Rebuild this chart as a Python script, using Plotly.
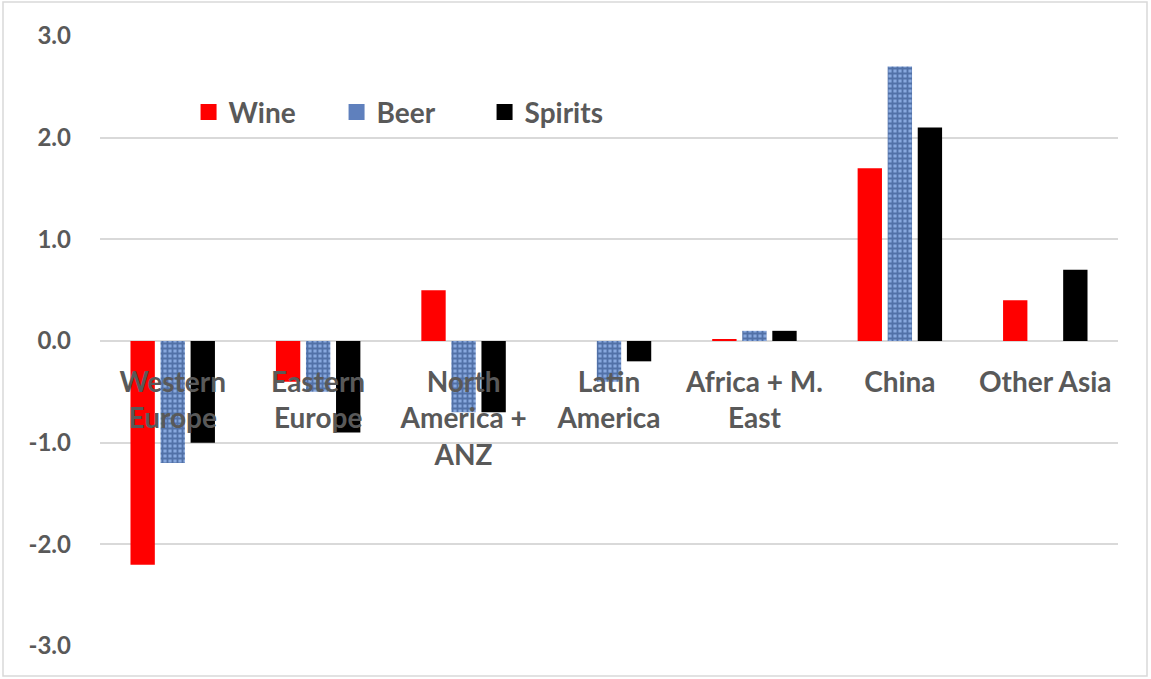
import plotly.graph_objects as go

categories = ["Western<br>Europe", "Eastern<br>Europe", "North<br>America +<br>ANZ", "Latin<br>America",
              "Africa + M.<br>East", "China", "Other Asia"]
series_names = ["Wine", "Beer", "Spirits"]
wine = [-2.2, -0.4, 0.5, 0.0, 0.02, 1.7, 0.4]
beer = [-1.2, -0.5, -0.7, -0.4, 0.1, 2.7, 0.0]
spirits = [-1.0, -0.9, -0.7, -0.2, 0.1, 2.1, 0.7]
y_ticks = [-3, -2, -1, 0, 1, 2, 3]
y_tick_text = ["-3.0", "-2.0", "-1.0", "0.0", "1.0", "2.0", "3.0"]

W, H = 1151, 679
ml, mr, mt, mb = 100, 33, 36, 33
pw, ph = W - ml - mr, H - mt - mb
font = "Lato"
grey = "#595959"
beer_bg, beer_fg = "#88a8de", "#1c3a70"

fig = go.Figure()
fig.add_trace(go.Bar(name=series_names[0], x=categories, y=wine, showlegend=False,
                     marker=dict(color="#ff0000", line=dict(width=0))))
fig.add_trace(go.Bar(name=series_names[1], x=categories, y=beer, showlegend=False,
                     marker=dict(color=beer_bg, line=dict(width=0),
                                 pattern=dict(shape="+", fgcolor=beer_fg, bgcolor=beer_bg, size=5, solidity=0.6))))
fig.add_trace(go.Bar(name=series_names[2], x=categories, y=spirits, showlegend=False,
                     marker=dict(color="#000000", line=dict(width=0))))
# legend entries with larger square swatches
for name, col in zip(series_names, ["#ff0000", "#5f80bd", "#000000"]):
    fig.add_trace(go.Scatter(name=name, x=[None], y=[None], mode="markers",
                             marker=dict(symbol="square", size=17, color=col)))

fig.update_layout(
    width=W, height=H,
    margin=dict(l=ml, r=mr, t=mt, b=mb),
    paper_bgcolor="white", plot_bgcolor="white",
    barmode="group", bargap=0.38, bargroupgap=0.19,
    font=dict(family=font, color=grey, size=24),
    legend=dict(orientation="h", x=0.087, y=0.875, xanchor="left", yanchor="middle",
                font=dict(family=font, size=28, color=grey, weight="bold"),
                bgcolor="rgba(0,0,0,0)", traceorder="normal", itemsizing="trace",
                entrywidth=103, entrywidthmode="pixels"),
    xaxis=dict(anchor="free", position=0.5, showgrid=False, showline=False, ticks="",
               tickfont=dict(family=font, size=28, color=grey, weight="bold"), tickangle=0,
               zeroline=False, ticklabelstandoff=22),
    yaxis=dict(range=[-3, 3], tickvals=y_ticks, ticktext=y_tick_text, showgrid=True, gridcolor="#d9d9d9",
               gridwidth=1.5, zeroline=True, zerolinecolor="#d9d9d9", zerolinewidth=2,
               tickfont=dict(family=font, size=24, color=grey, weight="bold"), ticklabelstandoff=28,
               showline=False),
    shapes=[dict(type="rect", xref="paper", yref="paper",
                 x0=(3 - ml) / pw, x1=(W - 4 - ml) / pw,
                 y0=-(H - 3 - mt - ph) / ph, y1=1 + (mt - 2) / ph,
                 line=dict(color="#d9d9d9", width=1.5), layer="below")],
)

fig.write_html("out.html", config={"displayModeBar": False},
               post_script="document.body.style.margin='0';")
